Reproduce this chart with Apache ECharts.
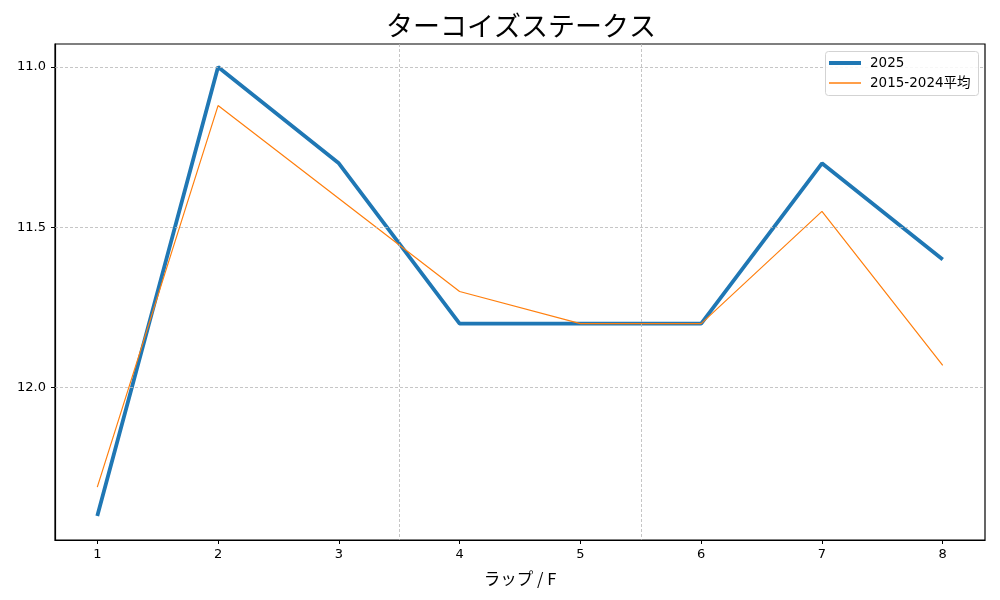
<!DOCTYPE html>
<html><head><meta charset="utf-8">
<script src="https://cdn.jsdelivr.net/npm/echarts@6/dist/echarts.min.js"></script>
<style>html,body{margin:0;padding:0;background:#fff}#c{width:1000px;height:600px}</style>
</head><body><div id="c"></div>
<script>
const laps = [1, 2, 3, 4, 5, 6, 7, 8];
const y2025 = [12.4, 11.0, 11.3, 11.8, 11.8, 11.8, 11.3, 11.6];
const yAvg = [12.31, 11.12, 11.41, 11.70, 11.80, 11.80, 11.45, 11.93];
const yTicks = [11.0, 11.5, 12.0];
const xSeparators = [3.5, 5.5];
const cjk = '"Noto Sans CJK JP", sans-serif';
const latin = '"DejaVu Sans", "Noto Sans CJK JP", sans-serif';

const chart = echarts.init(document.getElementById('c'));
const gridLine = {color: '#b8b8b8', type: [3, 2], width: 0.8};
const legendBase = {
  left: 829, orient: 'horizontal', itemWidth: 32, icon: 'rect', padding: 0, z: 60,
  textStyle: {fontFamily: latin, fontSize: 13.5, color: '#000', lineHeight: 16, padding: [0, 0, 0, 4]}
};
chart.setOption({
  animation: false,
  title: {text: 'ターコイズステークス', left: 381, top: 7,
    textStyle: {fontFamily: cjk, fontSize: 27, fontWeight: 'normal', color: '#000'}},
  legend: [
    Object.assign({}, legendBase, {top: 55, itemHeight: 4, data: ['2025']}),
    Object.assign({}, legendBase, {top: 75, itemHeight: 1.5, data: ['2015-2024平均']})
  ],
  graphic: [{type: 'rect', z: 50, shape: {x: 825.5, y: 51.5, width: 153, height: 44, r: 3},
    style: {fill: 'rgba(255,255,255,0.85)', stroke: '#d3d3d3', lineWidth: 1}}],
  grid: {left: 55, right: 15, top: 44, bottom: 60, show: true, borderColor: '#000', borderWidth: 1.2},
  xAxis: {
    type: 'value', min: 0.65, max: 8.35,
    name: 'ラップ / F', nameLocation: 'middle', nameGap: 30,
    nameTextStyle: {fontFamily: cjk, fontSize: 16.5, color: '#000'},
    axisLine: {show: true, lineStyle: {color: '#000', width: 1.2}},
    axisTick: {show: true, length: 4, lineStyle: {color: '#000'}, customValues: laps},
    axisLabel: {fontFamily: latin, fontSize: 13, color: '#000', margin: 8, customValues: laps},
    splitLine: {show: false}
  },
  yAxis: {
    type: 'value', inverse: true, min: 10.928, max: 12.475,
    axisLine: {show: true, lineStyle: {color: '#000', width: 1.2}},
    axisTick: {show: true, length: 4, lineStyle: {color: '#000'}, customValues: yTicks},
    axisLabel: {fontFamily: latin, fontSize: 13, color: '#000', margin: 9, customValues: yTicks,
      formatter: v => v.toFixed(1)},
    splitLine: {show: false}
  },
  series: [
    {name: '2025', type: 'line', data: laps.map((x, i) => [x, y2025[i]]), symbol: 'none',
      lineStyle: {color: '#1f77b4', width: 3.8}, itemStyle: {color: '#1f77b4'}, z: 3,
      markLine: {silent: true, symbol: 'none', label: {show: false}, lineStyle: gridLine,
        data: yTicks.map(v => ({yAxis: v})).concat(xSeparators.map(v => ({xAxis: v})))}},
    {name: '2015-2024平均', type: 'line', data: laps.map((x, i) => [x, yAvg[i]]), symbol: 'none',
      lineStyle: {color: '#ff7f0e', width: 1.2}, itemStyle: {color: '#ff7f0e'}, z: 4}
  ]
});
</script></body></html>
